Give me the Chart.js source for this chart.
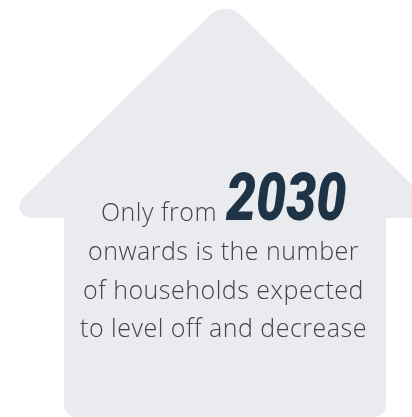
<!DOCTYPE html>
<html><head><meta charset="utf-8">
<style>html,body{margin:0;padding:0;background:#fff}canvas{display:block}</style>
<script src="https://cdn.jsdelivr.net/npm/chart.js@4"></script></head>
<body><canvas id="c" width="412" height="417" style="width:412px;height:417px"></canvas>
<script>
const roofX=[19,19.5,21,24,28,210,214,218,222,226,230,234,238,241,412];
const roofY=[207,203.5,200,196.5,193,15,12,10,9,8.8,9.2,10.5,12.5,15,185];
const baseX=[19,20,22,25,29,34,64,64,65,68,72,78,372,378,382,385,386,386,412];
const baseY=[207,210.5,213.5,216,217.5,218,218,405,410,414,416.5,417,417,416.5,414,410,405,218,218];
const bodyLines=["onwards is the number","of households expected","to level off and decrease"];
const bodyBaselines=[260,299,337];
const leadText="Only from";
const yearText="2030";
const pts=(xs,ys)=>xs.map((x,i)=>({x,y:ys[i]}));
const houseText={id:'houseText',afterDatasetsDraw(ch){
  const c=ch.ctx,sx=ch.scales.x,sy=ch.scales.y;
  c.save();
  c.fillStyle='#444444';c.font='300 25px "Open Sans"';c.textAlign='center';c.textBaseline='alphabetic';
  c.letterSpacing='0.5px';
  bodyLines.forEach((t,i)=>c.fillText(t,sx.getPixelForValue(223.5),sy.getPixelForValue(bodyBaselines[i])));
  c.textAlign='left';
  c.fillText(leadText,sx.getPixelForValue(101),sy.getPixelForValue(221));
  c.letterSpacing='0px';
  c.fillStyle='#1f3346';c.font='italic 900 67px Roboto';
  c.translate(sx.getPixelForValue(226),sy.getPixelForValue(220));
  c.scale(0.8,1);
  c.fillText(yearText,0,0);
  c.restore();
}};
new Chart(document.getElementById('c'),{type:'scatter',
 data:{datasets:[
  {data:pts(roofX,roofY),showLine:true,fill:'+1',backgroundColor:'#e9ebef',borderWidth:0,pointRadius:0,tension:0},
  {data:pts(baseX,baseY),showLine:true,fill:false,borderWidth:0,pointRadius:0,tension:0}
 ]},
 options:{responsive:false,animation:false,layout:{padding:0},
  plugins:{legend:{display:false},tooltip:{enabled:false},title:{display:false}},
  scales:{x:{type:'linear',min:0,max:412,display:false},y:{type:'linear',min:0,max:417,reverse:true,display:false}}},
 plugins:[houseText]});
</script></body></html>
